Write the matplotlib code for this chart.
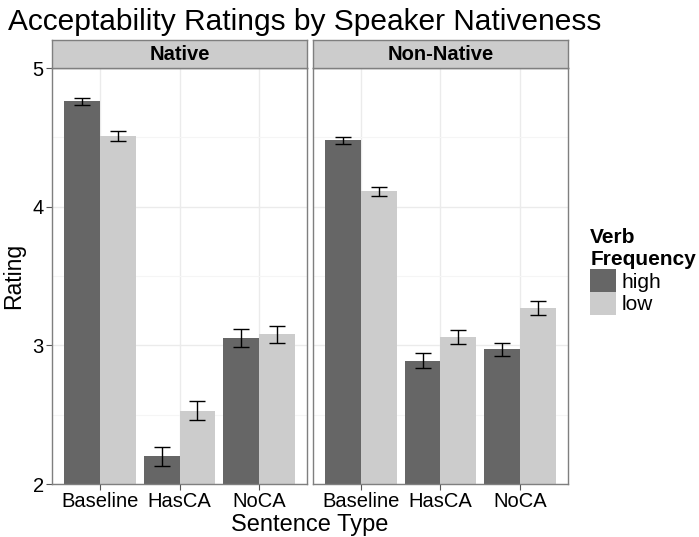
import numpy as np
import matplotlib
matplotlib.use("Agg")
import matplotlib.pyplot as plt
from matplotlib.patches import Patch

plt.rcParams['font.family'] = ['Liberation Sans', 'DejaVu Sans']

sentence_types = ["Baseline", "HasCA", "NoCA"]
panels = ["Native", "Non-Native"]
freq_levels = ["high", "low"]

# mean ratings per panel, per verb frequency
native_high = [4.76, 2.20, 3.05]
native_low = [4.51, 2.53, 3.08]
nonnative_high = [4.48, 2.89, 2.97]
nonnative_low = [4.11, 3.06, 3.27]

# error bar half-widths
native_high_err = [0.025, 0.07, 0.065]
native_low_err = [0.035, 0.07, 0.06]
nonnative_high_err = [0.025, 0.055, 0.05]
nonnative_low_err = [0.03, 0.05, 0.05]

colors = {"high": "#666666", "low": "#cccccc"}

data = {
    "Native": {"high": (native_high, native_high_err), "low": (native_low, native_low_err)},
    "Non-Native": {"high": (nonnative_high, nonnative_high_err), "low": (nonnative_low, nonnative_low_err)},
}

W, H = 699, 537
fig = plt.figure(figsize=(W / 100, H / 100), dpi=100)

def px_axes(x0, y0, x1, y1):
    return fig.add_axes([x0 / W, 1 - y1 / H, (x1 - x0) / W, (y1 - y0) / H])

panel_x = [(52, 307), (313, 568)]
x = np.arange(1, len(sentence_types) + 1)
bw = 0.45

for i, name in enumerate(panels):
    x0, x1 = panel_x[i]
    ax = px_axes(x0, 68, x1, 484)
    ax.set_xlim(0.4, 3.6)
    ax.set_ylim(2, 5)
    ax.set_axisbelow(True)
    ax.set_yticks([2, 3, 4, 5])
    ax.set_yticks([2.5, 3.5, 4.5], minor=True)
    ax.set_xticks(x)
    ax.set_xticklabels(sentence_types)
    ax.grid(True, which="major", color="#ebebeb", lw=1.0)
    ax.grid(True, which="minor", axis="y", color="#f5f5f5", lw=0.8)
    ax.tick_params(axis="both", which="major", length=4, color="#555555", width=0.8,
                   labelsize=14.5, pad=2)
    ax.tick_params(axis="both", which="minor", length=0)
    for sp in ax.spines.values():
        sp.set_color("#7f7f7f")
        sp.set_linewidth(1.0)
    if i > 0:
        ax.tick_params(axis="y", labelleft=False, length=0)
    else:
        ax.set_ylabel("Rating", fontsize=16.5, labelpad=5)
    for j, lvl in enumerate(freq_levels):
        vals, errs = data[name][lvl]
        pos = x + (j - 0.5) * bw
        ax.bar(pos, np.array(vals) - 2, bw, bottom=2, color=colors[lvl], edgecolor="none", zorder=2)
        ax.errorbar(pos, vals, yerr=errs, fmt="none", ecolor="black", elinewidth=1.0,
                    capsize=5.5, capthick=1.0, zorder=3)
    # facet strip
    sax = px_axes(x0, 40, x1, 68)
    sax.set_facecolor("#cccccc")
    sax.set_xticks([])
    sax.set_yticks([])
    for sp in sax.spines.values():
        sp.set_color("#7f7f7f")
        sp.set_linewidth(1.0)
    sax.text(0.5, 0.47, name, ha="center", va="center", fontsize=14.5, fontweight="bold",
             transform=sax.transAxes)

fig.text(310 / W, 1 - 525 / H, "Sentence Type", ha="center", va="center", fontsize=17)
fig.text(8 / W, 1 - 22 / H, "Acceptability Ratings by Speaker Nativeness", ha="left",
         va="center", fontsize=21.5)

handles = [Patch(facecolor=colors[l], edgecolor="none", label=l) for l in freq_levels]
leg = fig.legend(handles=handles, title="Verb\nFrequency", loc="upper left",
                 bbox_to_anchor=(582 / W, 1 - 220 / H), frameon=False, fontsize=15,
                 title_fontsize=15, handlelength=1.25, handleheight=1.3,
                 handletextpad=0.25, labelspacing=0.0, borderaxespad=0)
leg.get_title().set_fontweight("bold")
leg._legend_box.align = "left"

fig.savefig("out.png", dpi=100)
